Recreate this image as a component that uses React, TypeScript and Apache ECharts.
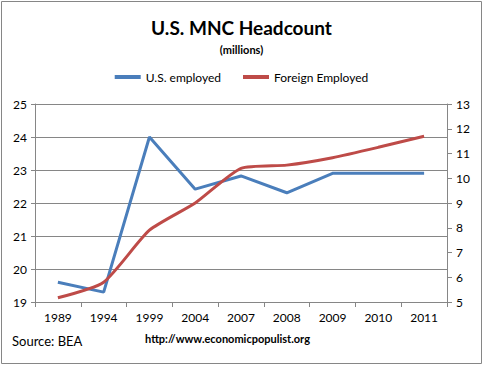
import React, { useEffect, useRef } from "react";
import * as echarts from "echarts";

const years = ["1989", "1994", "1999", "2004", "2007", "2008", "2009", "2010", "2011"];
const usEmployed = [19.6, 19.3, 24.0, 22.42, 22.82, 22.31, 22.9, 22.9, 22.9];
const foreignEmployed = [5.17, 5.8, 7.9, 9.0, 10.4, 10.53, 10.83, 11.25, 11.7];

const FONT = "Lato, 'Liberation Sans', sans-serif";

export default function App() {
  const ref = useRef<HTMLDivElement>(null);
  useEffect(() => {
    if (!ref.current) return;
    const chart = echarts.init(ref.current, null, { renderer: "svg" });
    chart.setOption({
      animation: false,
      backgroundColor: "#ffffff",
      textStyle: { fontFamily: FONT },
      title: {
        text: "U.S. MNC Headcount",
        subtext: "(millions)",
        left: "center",
        top: 13,
        itemGap: 7,
        textStyle: { fontSize: 19, fontWeight: "bold", color: "#000", fontFamily: FONT },
        subtextStyle: { fontSize: 11, fontWeight: "bold", color: "#000", fontFamily: FONT },
      },
      legend: {
        top: 66,
        left: "center",
        itemWidth: 26,
        itemHeight: 4,
        itemGap: 22,
        icon: "rect",
        textStyle: { fontSize: 12, color: "#000", fontFamily: FONT },
        data: ["U.S. employed", "Foreign Employed"],
      },
      grid: { left: 35, right: 36, top: 104, bottom: 64 },
      xAxis: {
        type: "category",
        data: years,
        boundaryGap: true,
        axisLine: { lineStyle: { color: "#868686" } },
        axisTick: { show: true, length: 5, lineStyle: { color: "#868686" } },
        axisLabel: { color: "#000", fontSize: 12, margin: 9, fontFamily: FONT },
      },
      yAxis: [
        {
          type: "value",
          min: 19,
          max: 25,
          interval: 1,
          position: "left",
          axisLine: { show: true, lineStyle: { color: "#868686" } },
          axisTick: { show: true, length: 4, lineStyle: { color: "#868686" } },
          axisLabel: { color: "#000", fontSize: 12, margin: 8, fontFamily: FONT },
          splitLine: { show: true, lineStyle: { color: "#868686", width: 1 } },
        },
        {
          type: "value",
          min: 5,
          max: 13,
          interval: 1,
          position: "right",
          axisLine: { show: true, lineStyle: { color: "#868686" } },
          axisTick: { show: true, length: 5, lineStyle: { color: "#868686" } },
          axisLabel: { color: "#000", fontSize: 12, margin: 9, fontFamily: FONT },
          splitLine: { show: false },
        },
      ],
      series: [
        {
          name: "U.S. employed",
          type: "line",
          yAxisIndex: 0,
          data: usEmployed,
          showSymbol: false,
          symbol: "none",
          color: "#4A7EBB",
          lineStyle: { width: 3, color: "#4A7EBB" },
        },
        {
          name: "Foreign Employed",
          type: "line",
          yAxisIndex: 1,
          data: foreignEmployed,
          showSymbol: false,
          symbol: "none",
          smooth: 0.2,
          color: "#BE4B48",
          lineStyle: { width: 3, color: "#BE4B48" },
        },
      ],
      graphic: [
        {
          type: "rect",
          shape: { x: 1.5, y: 1.5, width: 480, height: 362 },
          style: { fill: "none", stroke: "#868686", lineWidth: 1 },
          silent: true,
        },
        {
          type: "text",
          left: 12,
          top: 334,
          style: { text: "Source: BEA", fontSize: 13, fill: "#000", fontFamily: FONT },
        },
        {
          type: "text",
          left: 145,
          top: 333,
          style: {
            text: "http://www.economicpopulist.org",
            fontSize: 11,
            fontWeight: "bold",
            fill: "#000",
            fontFamily: FONT,
          },
        },
      ],
    });
    return () => chart.dispose();
  }, []);
  return (
    <div
      ref={ref}
      style={{ position: "fixed", left: 0, top: 0, width: 483, height: 366 }}
    />
  );
}
